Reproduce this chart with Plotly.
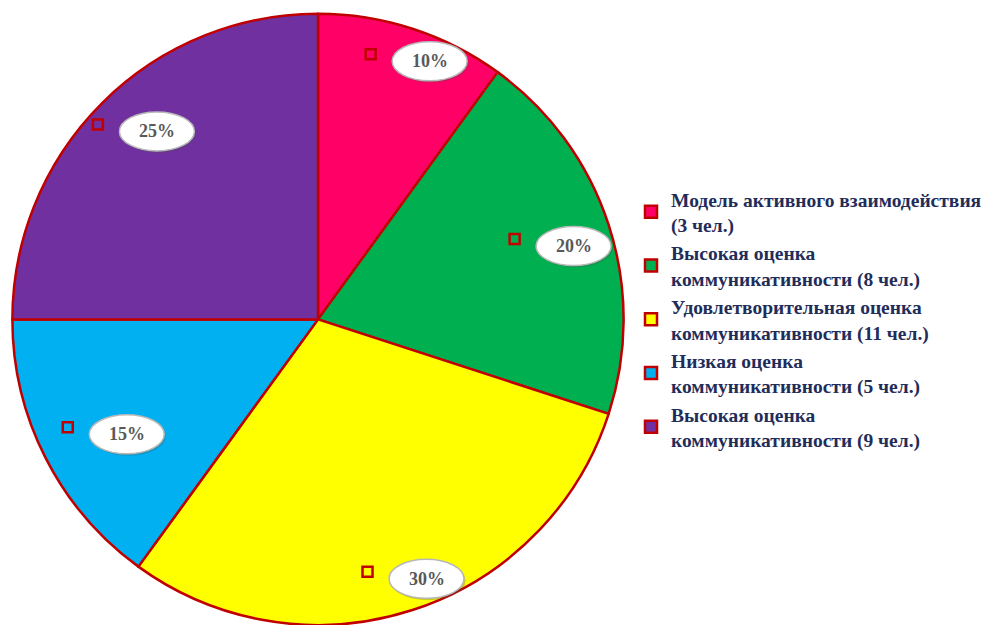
import math
import plotly.graph_objects as go

# ---- data ----
categories = [
    "Модель активного взаимодействия<br>(3 чел.)",
    "Высокая оценка<br>коммуникативности (8 чел.)",
    "Удовлетворительная оценка<br>коммуникативности (11 чел.)",
    "Низкая оценка<br>коммуникативности (5 чел.)",
    "Высокая оценка<br>коммуникативности (9 чел.)",
]
percent_values = [10, 20, 30, 15, 25]
percent_labels = ["10%", "20%", "30%", "15%", "25%"]

# ---- styles ----
slice_colors = ["#FF0066", "#00B050", "#FFFF00", "#00B0F0", "#7030A0"]
border_color = "#C00000"
label_radius_frac = [0.92, 0.87, 0.92, 0.73, 0.81]
label_angle_shift = [5.4, 2.0, -4.7, -4.0, 4.4]

W, H = 990, 625
dom_x = [12 / W, 624 / W]
dom_y = [0.0, 0.978]

fig = go.Figure()
fig.add_trace(go.Pie(
    labels=categories,
    values=percent_values,
    sort=False,
    direction="clockwise",
    rotation=0,
    marker=dict(colors=slice_colors, line=dict(color=border_color, width=2.5)),
    textinfo="none",
    hoverinfo="label+percent",
    domain=dict(x=dom_x, y=dom_y),
))

# geometry of the pie (pixels)
cx = (dom_x[0] + dom_x[1]) / 2 * W
cy = H - (dom_y[0] + dom_y[1]) / 2 * H
R = min((dom_x[1] - dom_x[0]) * W, (dom_y[1] - dom_y[0]) * H) / 2

total = sum(percent_values)
shapes = []
annotations = []
cum = 0
for i, v in enumerate(percent_values):
    mid = (cum + v / 2) / total * 360 + label_angle_shift[i]
    cum += v
    r = R * label_radius_frac[i]
    px = cx + r * math.sin(math.radians(mid))
    py = cy - r * math.cos(math.radians(mid))
    ew, eh = 75, 39
    # shadow
    shapes.append(dict(type="circle", xref="paper", yref="paper",
                       x0=(px - ew / 2 + 1.5) / W, x1=(px + ew / 2 + 1.5) / W,
                       y0=1 - (py + eh / 2 + 2) / H, y1=1 - (py - eh / 2 + 2) / H,
                       fillcolor="rgba(80,80,80,0.30)", line=dict(width=0), layer="above"))
    shapes.append(dict(type="circle", xref="paper", yref="paper",
                       x0=(px - ew / 2) / W, x1=(px + ew / 2) / W,
                       y0=1 - (py + eh / 2) / H, y1=1 - (py - eh / 2) / H,
                       fillcolor="white", line=dict(color="#B8B8B8", width=1.5), layer="above"))
    # small square marker
    sx, sy = px - 59, py - 7
    s = 5
    shapes.append(dict(type="rect", xref="paper", yref="paper",
                       x0=(sx - s) / W, x1=(sx + s) / W,
                       y0=1 - (sy + s) / H, y1=1 - (sy - s) / H,
                       fillcolor="rgba(0,0,0,0)", line=dict(color=border_color, width=2.5),
                       layer="above"))
    annotations.append(dict(x=px / W, y=1 - py / H, xref="paper", yref="paper",
                            xanchor="center", yanchor="middle",
                            text=percent_labels[i], showarrow=False,
                            font=dict(family="Liberation Serif", size=18, color="#595959",
                                      weight="bold")))

fig.update_layout(
    width=W, height=H,
    margin=dict(l=0, r=0, t=0, b=0),
    paper_bgcolor="white",
    plot_bgcolor="white",
    shapes=shapes,
    annotations=annotations,
    showlegend=True,
    legend=dict(
        x=631 / W, y=1 - 180 / H, xanchor="left", yanchor="top",
        font=dict(family="Liberation Serif", size=19.5, color="#1F2D5A", weight="bold"),
        itemwidth=30,
        bgcolor="rgba(0,0,0,0)",
    ),
)

fig.write_html("out.html", config={"displayModeBar": False},
               post_script="document.body.style.margin='0';")
